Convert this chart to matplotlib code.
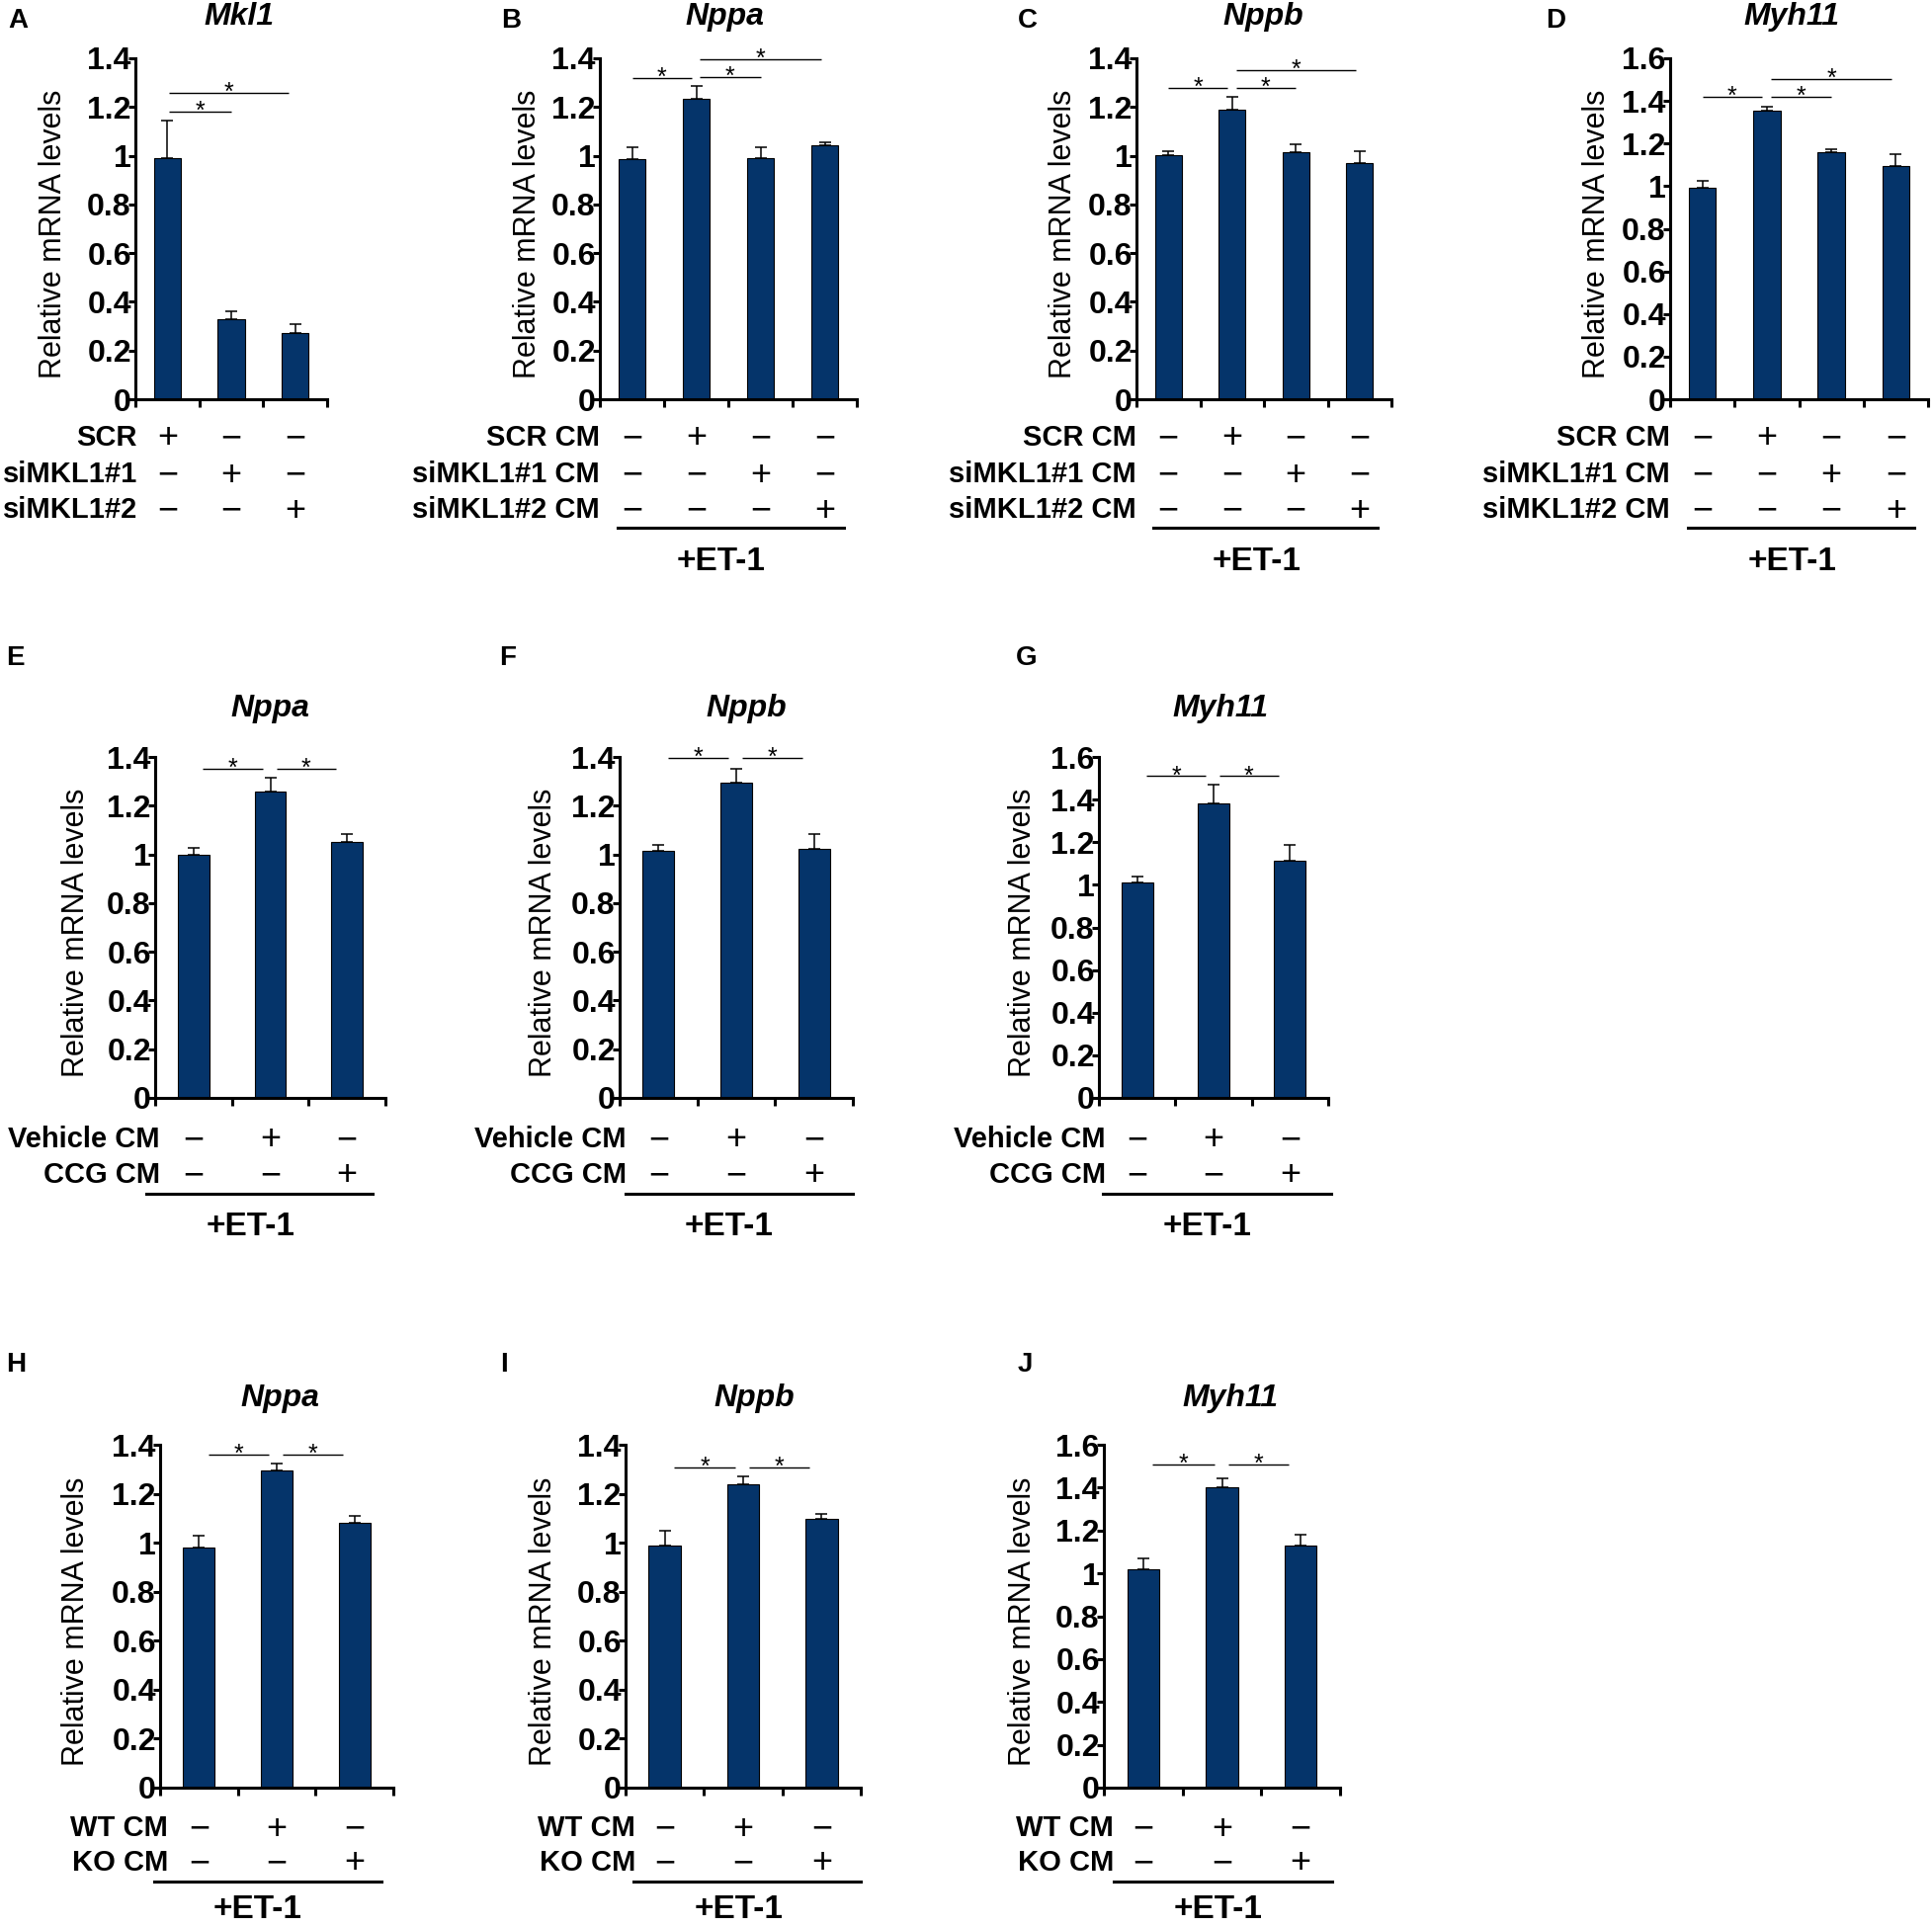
import numpy as np
import matplotlib
matplotlib.use("Agg")
import matplotlib.pyplot as plt
from matplotlib.lines import Line2D
from matplotlib.transforms import blended_transform_factory

plt.rcParams.update({
    "font.family": ["Liberation Sans", "DejaVu Sans"],
    "axes.spines.top": False,
    "axes.spines.right": False,
})

W, H = 1955, 1950
BAR_COLOR = "#05346a"

# ── data ───────────────────────────────────────────────────────────────────
LETTERS = list("ABCDEFGHIJ")
GENES = ["Mkl1", "Nppa", "Nppb", "Myh11", "Nppa", "Nppb", "Myh11", "Nppa", "Nppb", "Myh11"]
YMAX = [1.4, 1.4, 1.4, 1.6, 1.4, 1.4, 1.6, 1.4, 1.4, 1.6]

ROWS_SI = ["SCR", "siMKL1#1", "siMKL1#2"]
ROWS_SI_CM = ["SCR CM", "siMKL1#1 CM", "siMKL1#2 CM"]
ROWS_CCG = ["Vehicle CM", "CCG CM"]
ROWS_KO = ["WT CM", "KO CM"]
# column that gets the "+" in each row
ON_SI = [0, 1, 2]
ON_SI_CM = [1, 2, 3]
ON_TWO = [1, 2]

mean_a = [0.99, 0.33, 0.27]
sem_a = [0.155, 0.032, 0.04]
sig_a = [(0, 1, 1.18), (0, 2, 1.257)]

mean_b = [0.985, 1.235, 0.989, 1.044]
sem_b = [0.051, 0.053, 0.047, 0.011]
sig_b = [(0, 1, 1.319), (1, 2, 1.324), (1, 3, 1.397)]

mean_c = [1.003, 1.187, 1.016, 0.969]
sem_c = [0.017, 0.054, 0.031, 0.051]
sig_c = [(0, 1, 1.277), (1, 2, 1.28), (1, 3, 1.352)]

mean_d = [0.992, 1.353, 1.161, 1.095]
sem_d = [0.032, 0.019, 0.014, 0.057]
sig_d = [(0, 1, 1.419), (1, 2, 1.419), (1, 3, 1.504)]

mean_e = [1.0, 1.26, 1.049]
sem_e = [0.028, 0.053, 0.035]
sig_e = [(0, 1, 1.352), (1, 2, 1.352)]

mean_f = [1.015, 1.294, 1.023]
sem_f = [0.024, 0.056, 0.061]
sig_f = [(0, 1, 1.397), (1, 2, 1.397)]

mean_g = [1.01, 1.38, 1.114]
sem_g = [0.031, 0.092, 0.073]
sig_g = [(0, 1, 1.51), (1, 2, 1.51)]

mean_h = [0.982, 1.294, 1.081]
sem_h = [0.045, 0.03, 0.027]
sig_h = [(0, 1, 1.359), (1, 2, 1.359)]

mean_i = [0.99, 1.24, 1.096]
sem_i = [0.057, 0.032, 0.02]
sig_i = [(0, 1, 1.306), (1, 2, 1.306)]

mean_j = [1.02, 1.40, 1.131]
sem_j = [0.05, 0.045, 0.048]
sig_j = [(0, 1, 1.51), (1, 2, 1.51)]

MEANS = [mean_a, mean_b, mean_c, mean_d, mean_e, mean_f, mean_g, mean_h, mean_i, mean_j]
SEMS = [sem_a, sem_b, sem_c, sem_d, sem_e, sem_f, sem_g, sem_h, sem_i, sem_j]
SIGS = [sig_a, sig_b, sig_c, sig_d, sig_e, sig_f, sig_g, sig_h, sig_i, sig_j]
ROWS = [ROWS_SI] + [ROWS_SI_CM] * 3 + [ROWS_CCG] * 3 + [ROWS_KO] * 3
ONS = [ON_SI] + [ON_SI_CM] * 3 + [ON_TWO] * 6

# ── layout (pixels) ────────────────────────────────────────────────────────
TRIM_A = [(0.02, 0.0), (0.02, 0.1)]
TRIM_4 = [(0.0, 0.07), (0.06, 0.0), (0.06, 0.06)]
TRIM_3 = [(0.12, 0.1), (0.08, 0.15)]
ROW1 = dict(yt=59, yb=404, rows=[36, 73, 109], line=130, et=161, ty=17, ly=21, bw=0.42)
ROW2 = dict(yt=766, yb=1111, rows=[39, 75], line=97, et=127, ty=717, ly=666, bw=0.41)
ROW3 = dict(yt=1462, yb=1809, rows=[38, 73], line=95, et=120, ty=1415, ly=1381, bw=0.41)

LAYOUT = [
    dict(ROW1, x0=137, x1=331, lx=18, tx=242, ylab=54, labx=139, trim=TRIM_A, uline=None, etx=None),
    dict(ROW1, x0=607, x1=867, lx=517, tx=733, ylab=534, labx=607, trim=TRIM_4, uline=(-0.22, 3.3), etx=1.39),
    dict(ROW1, x0=1150, x1=1408, lx=1040, tx=1278, ylab=1076, labx=1150, trim=TRIM_4, uline=(-0.24, 3.28), etx=1.38),
    dict(ROW1, x0=1690, x1=1951, lx=1574, tx=1813, ylab=1616, labx=1690, trim=TRIM_4, uline=(-0.22, 3.29), etx=1.39),
    dict(ROW2, x0=157, x1=390, lx=15, tx=273, ylab=77, labx=162, trim=TRIM_3, uline=(-0.62, 2.33), etx=0.74),
    dict(ROW2, x0=627, x1=863, lx=514, tx=755, ylab=550, labx=634, trim=TRIM_3, uline=(-0.42, 2.5), etx=0.9),
    dict(ROW2, x0=1112, x1=1344, lx=1039, tx=1235, ylab=1035, labx=1119, trim=TRIM_3, uline=(-0.45, 2.54), etx=0.92),
    dict(ROW3, x0=162, x1=398, lx=16, tx=283, ylab=77, labx=170, trim=TRIM_3, uline=(-0.58, 2.35), etx=0.75),
    dict(ROW3, x0=633, x1=871, lx=510, tx=763, ylab=550, labx=643, trim=TRIM_3, uline=(-0.40, 2.5), etx=0.95),
    dict(ROW3, x0=1117, x1=1356, lx=1037, tx=1245, ylab=1035, labx=1127, trim=TRIM_3, uline=(-0.38, 2.4), etx=0.95),
]


def fy(py):
    return 1 - py / H


def draw_panel(fig, k):
    lay = LAYOUT[k]
    mean, sem, sig = MEANS[k], SEMS[k], SIGS[k]
    x0, x1, yt, yb = lay["x0"], lay["x1"], lay["yt"], lay["yb"]
    ax = fig.add_axes([x0 / W, fy(yb), (x1 - x0) / W, (yb - yt) / H])
    n = len(mean)
    x = np.arange(n)

    ax.bar(x, mean, width=lay["bw"], color=BAR_COLOR, edgecolor="black",
           linewidth=0.8, zorder=2)
    ax.errorbar(x, mean, yerr=[np.zeros(n), sem], fmt="none", ecolor="black",
                elinewidth=1.1, capsize=4.3, capthick=1.1, zorder=1)

    # significance bars
    for (i, j, h), (tl, tr) in zip(sig, lay["trim"]):
        xa, xb = i + tl, j - tr
        ax.plot([xa, xb], [h, h], color="black", lw=1.0, clip_on=False,
                solid_capstyle="butt")
        ax.text((xa + xb) / 2, h, "*", ha="center", va="center", fontsize=18)

    ymax = YMAX[k]
    ticks = np.round(np.arange(0, ymax + 0.01, 0.2), 1)
    ax.set_yticks(ticks, [f"{t:g}" for t in ticks], fontsize=23, fontweight="bold")
    ax.set_xticks(np.arange(n + 1) - 0.5, [])
    ax.set_xlim(-0.5, n - 0.5)
    ax.set_ylim(0, ymax)
    for s in ("left", "bottom"):
        ax.spines[s].set_linewidth(2.2)
    ax.tick_params(axis="y", length=5, width=2.2, pad=-2)
    ax.tick_params(axis="x", length=5.5, width=2.2)

    fig.text(lay["lx"] / W, fy(lay["ly"]), LETTERS[k], ha="center", va="center",
             fontsize=20, fontweight="bold")
    fig.text(lay["tx"] / W, fy(lay["ty"]), GENES[k], ha="center", va="center",
             fontsize=23, fontweight="bold", style="italic")
    fig.text(lay["ylab"] / W, fy((yt + yb) / 2 + 5), "Relative mRNA levels",
             rotation=90, ha="center", va="center", fontsize=22)

    # treatment table
    blend = blended_transform_factory(ax.transData, fig.transFigure)
    for r, (lab, col) in enumerate(zip(ROWS[k], ONS[k])):
        yy = fy(yb + lay["rows"][r])
        fig.text(lay["labx"] / W, yy, lab, ha="right", va="center_baseline",
                 fontsize=21, fontweight="bold")
        for c in range(n):
            ax.text(c, yy, "+" if c == col else "\u2212", transform=blend,
                    ha="center", va="center_baseline", fontsize=26, clip_on=False)
    if lay["uline"] is not None:
        yl = fy(yb + lay["line"])
        ax.add_artist(Line2D(list(lay["uline"]), [yl, yl], transform=blend,
                             color="black", lw=2.2, clip_on=False))
        ax.text(lay["etx"], fy(yb + lay["et"]), "+ET-1", transform=blend,
                ha="center", va="center_baseline", fontsize=24, fontweight="bold")


def main():
    fig = plt.figure(figsize=(W / 100, H / 100), dpi=100)
    for k in range(len(LAYOUT)):
        draw_panel(fig, k)
    fig.savefig("out.png", dpi=100)
    plt.close(fig)


if __name__ == "__main__":
    main()
